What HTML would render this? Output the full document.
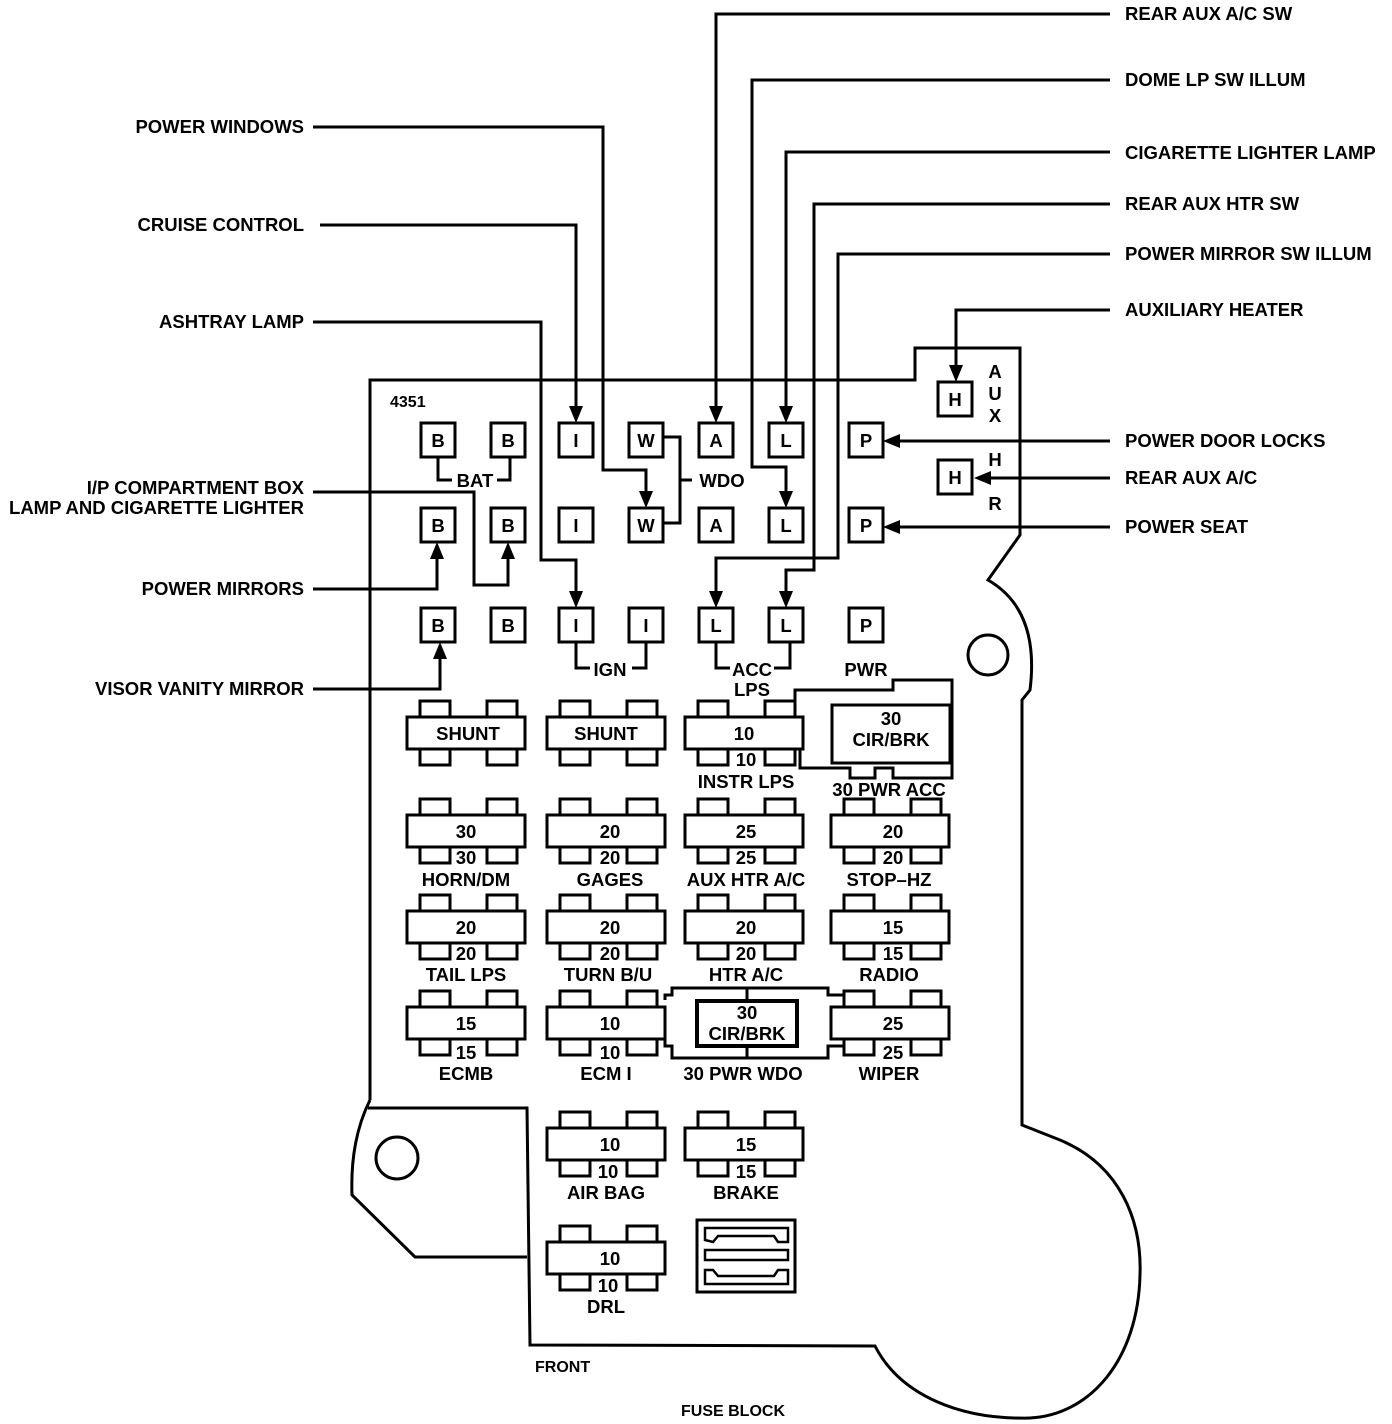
<!DOCTYPE html>
<html><head><meta charset="utf-8"><style>
html,body{margin:0;padding:0;background:#fff}
svg{display:block}
text{font-family:"Liberation Sans",sans-serif;fill:#000;font-weight:bold}
.t{font-size:18.5px}
.s{font-size:16px}
</style></head><body>
<svg width="1392" height="1424" viewBox="0 0 1392 1424" xmlns="http://www.w3.org/2000/svg">
<defs>
<g id="fuse">
 <rect x="13" y="0" width="30" height="16" fill="#fff" stroke="#000" stroke-width="3"/>
 <rect x="80" y="0" width="30" height="16" fill="#fff" stroke="#000" stroke-width="3"/>
 <rect x="13" y="48" width="30" height="16" fill="#fff" stroke="#000" stroke-width="3"/>
 <rect x="80" y="48" width="30" height="16" fill="#fff" stroke="#000" stroke-width="3"/>
 <rect x="0" y="16" width="118" height="32" fill="#fff" stroke="#000" stroke-width="3"/>
</g>
<g id="sq"><rect x="0" y="0" width="34" height="34" fill="#fff" stroke="#000" stroke-width="3"/></g>
</defs>
<g fill="none" stroke="#000" stroke-width="3">
<path d="M370,1100 L370,380 L915,380 L915,348 L1020,348 L1020,535 L988,580 Q1040,610 1030,690 L1022,700 L1022,1125 L1060,1140 C1120,1165 1142,1220 1140,1275 C1138,1360 1090,1415 1030,1418 C960,1420 900,1395 875,1346 L530,1345 L527,1108 L368,1108"/>
<path d="M370,1100 Q350,1140 352,1195 L415,1257 L527,1257"/>
<circle cx="988" cy="655" r="20"/>
<circle cx="397" cy="1158" r="21"/>
<polyline points="1110,14 716,14 716,415"/>
<polyline points="1110,80 752,80 752,467 786,467 786,500"/>
<polyline points="1110,152 786,152 786,415"/>
<polyline points="1110,204 814,204 814,570 786,570 786,600"/>
<polyline points="1110,254 838,254 838,558 716,558 716,600"/>
<polyline points="1110,310 956,310 956,375"/>
<polyline points="1110,441 890,441"/>
<polyline points="1110,478 980,478"/>
<polyline points="1110,527 890,527"/>
<polyline points="313,127 603,127 603,470 646,470 646,500"/>
<polyline points="320,225 576,225 576,415"/>
<polyline points="313,322 541,322 541,560 576,560 576,600"/>
<polyline points="313,492 474,492 474,585 508,585 508,550"/>
<polyline points="313,589 437,589 437,550"/>
<polyline points="313,689 440,689 440,650"/>
<polyline points="438,457 438,480 452,480"/><polyline points="510,457 510,480 497,480"/>
<polyline points="663,437 680,437 680,523 663,523"/><line x1="680" y1="480" x2="692" y2="480"/>
<polyline points="576,642 576,668 590,668"/><polyline points="646,642 646,668 632,668"/>
<polyline points="716,642 716,668 730,668"/><polyline points="790,642 790,668 774,668"/>
<polyline points="800,717 795,717 795,690 893,690 893,680 952,680 952,778 893,778 893,768 875,768 875,778 850,778 850,768 800,768 800,750"/>
<rect x="832" y="705" width="118" height="58"/>
<path d="M665,1000 L665,995 L672,995 L672,988 L828,988 L828,995 L860,995 L860,1000 M665,1040 L665,1046 L672,1046 L672,1058 L828,1058 L828,1046 L860,1046 L860,1040"/>
<rect x="697" y="1001" width="100" height="45" stroke-width="4"/>
<line x1="747" y1="988" x2="747" y2="1001"/><line x1="747" y1="1046" x2="747" y2="1058"/>
<rect x="697" y="1220" width="98" height="72"/>
<path d="M705,1240 L705,1228 L788,1228 L788,1242 L778,1242 L774,1236 L718,1236 L713,1242 Z" stroke-width="2.5"/>
<rect x="705" y="1250" width="83" height="10" stroke-width="2.5"/>
<path d="M705,1270 L705,1284 L788,1284 L788,1270 L778,1270 L774,1276 L718,1276 L713,1270 Z" stroke-width="2.5"/>
</g>
<g fill="#000">
<polygon points="709,406 723,406 716,423"/>
<polygon points="779,406 793,406 786,423"/>
<polygon points="779,491 793,491 786,508"/>
<polygon points="779,591 793,591 786,608"/>
<polygon points="709,591 723,591 716,608"/>
<polygon points="949,365 963,365 956,382"/>
<polygon points="900,434 900,448 883,441"/>
<polygon points="991,471 991,485 974,478"/>
<polygon points="900,520 900,534 883,527"/>
<polygon points="639,491 653,491 646,508"/>
<polygon points="569,406 583,406 576,423"/>
<polygon points="569,591 583,591 576,608"/>
<polygon points="501,559 515,559 508,542"/>
<polygon points="430,559 444,559 437,542"/>
<polygon points="433,659 447,659 440,642"/>
</g>
<g>
<use href="#sq" x="421" y="423"/><use href="#sq" x="491" y="423"/><use href="#sq" x="559" y="423"/><use href="#sq" x="629" y="423"/><use href="#sq" x="699" y="423"/><use href="#sq" x="769" y="423"/><use href="#sq" x="849" y="423"/>
<use href="#sq" x="421" y="508"/><use href="#sq" x="491" y="508"/><use href="#sq" x="559" y="508"/><use href="#sq" x="629" y="508"/><use href="#sq" x="699" y="508"/><use href="#sq" x="769" y="508"/><use href="#sq" x="849" y="508"/>
<use href="#sq" x="421" y="608"/><use href="#sq" x="491" y="608"/><use href="#sq" x="559" y="608"/><use href="#sq" x="629" y="608"/><use href="#sq" x="699" y="608"/><use href="#sq" x="769" y="608"/><use href="#sq" x="849" y="608"/>
<use href="#sq" x="938" y="382"/><use href="#sq" x="938" y="460"/>
</g>
<g class="t" text-anchor="middle">
<text x="438" y="447">B</text><text x="508" y="447">B</text><text x="576" y="447">I</text><text x="646" y="447">W</text><text x="716" y="447">A</text><text x="786" y="447">L</text><text x="866" y="447">P</text>
<text x="438" y="532">B</text><text x="508" y="532">B</text><text x="576" y="532">I</text><text x="646" y="532">W</text><text x="716" y="532">A</text><text x="786" y="532">L</text><text x="866" y="532">P</text>
<text x="438" y="632">B</text><text x="508" y="632">B</text><text x="576" y="632">I</text><text x="646" y="632">I</text><text x="716" y="632">L</text><text x="786" y="632">L</text><text x="866" y="632">P</text>
<text x="955" y="406">H</text><text x="955" y="484">H</text>
<text x="995" y="378">A</text><text x="995" y="400">U</text><text x="995" y="422">X</text>
<text x="995" y="466">H</text><text x="995" y="510">R</text>
<text x="475" y="487">BAT</text><text x="722" y="487">WDO</text><text x="610" y="676">IGN</text><text x="752" y="676">ACC</text><text x="752" y="696">LPS</text><text x="866" y="676">PWR</text>
</g>
<text x="390" y="407" class="s">4351</text>
<g>
<use href="#fuse" x="407" y="701"/><use href="#fuse" x="547" y="701"/><use href="#fuse" x="685" y="701"/>
<use href="#fuse" x="407" y="799"/><use href="#fuse" x="547" y="799"/><use href="#fuse" x="685" y="799"/><use href="#fuse" x="831" y="799"/>
<use href="#fuse" x="407" y="895"/><use href="#fuse" x="547" y="895"/><use href="#fuse" x="685" y="895"/><use href="#fuse" x="831" y="895"/>
<use href="#fuse" x="407" y="991"/><use href="#fuse" x="547" y="991"/><use href="#fuse" x="831" y="991"/>
<use href="#fuse" x="547" y="1112"/><use href="#fuse" x="685" y="1112"/>
<use href="#fuse" x="547" y="1226"/>
</g>
<g class="t" text-anchor="middle">
<text x="468" y="740">SHUNT</text><text x="606" y="740">SHUNT</text><text x="744" y="740">10</text><text x="746" y="766">10</text><text x="746" y="788">INSTR LPS</text>
<text x="891" y="725">30</text><text x="891" y="746">CIR/BRK</text><text x="889" y="796">30 PWR ACC</text>
<text x="466" y="838">30</text><text x="466" y="864">30</text><text x="466" y="886">HORN/DM</text>
<text x="610" y="838">20</text><text x="610" y="864">20</text><text x="610" y="886">GAGES</text>
<text x="746" y="838">25</text><text x="746" y="864">25</text><text x="746" y="886">AUX HTR A/C</text>
<text x="893" y="838">20</text><text x="893" y="864">20</text><text x="889" y="886">STOP–HZ</text>
<text x="466" y="934">20</text><text x="466" y="960">20</text><text x="466" y="981">TAIL LPS</text>
<text x="610" y="934">20</text><text x="610" y="960">20</text><text x="608" y="981">TURN B/U</text>
<text x="746" y="934">20</text><text x="746" y="960">20</text><text x="746" y="981">HTR A/C</text>
<text x="893" y="934">15</text><text x="893" y="960">15</text><text x="889" y="981">RADIO</text>
<text x="466" y="1030">15</text><text x="466" y="1059">15</text><text x="466" y="1080">ECMB</text>
<text x="610" y="1030">10</text><text x="610" y="1059">10</text><text x="606" y="1080">ECM I</text>
<text x="747" y="1019">30</text><text x="747" y="1040">CIR/BRK</text><text x="743" y="1080">30 PWR WDO</text>
<text x="893" y="1030">25</text><text x="893" y="1059">25</text><text x="889" y="1080">WIPER</text>
<text x="610" y="1151">10</text><text x="608" y="1178">10</text><text x="606" y="1199">AIR BAG</text>
<text x="746" y="1151">15</text><text x="746" y="1178">15</text><text x="746" y="1199">BRAKE</text>
<text x="610" y="1265">10</text><text x="608" y="1292">10</text><text x="606" y="1313">DRL</text>
</g>
<g class="t">
<text x="1125" y="20">REAR AUX A/C SW</text>
<text x="1125" y="86">DOME LP SW ILLUM</text>
<text x="1125" y="159">CIGARETTE LIGHTER LAMP</text>
<text x="1125" y="210">REAR AUX HTR SW</text>
<text x="1125" y="260">POWER MIRROR SW ILLUM</text>
<text x="1125" y="316">AUXILIARY HEATER</text>
<text x="1125" y="447">POWER DOOR LOCKS</text>
<text x="1125" y="484">REAR AUX A/C</text>
<text x="1125" y="533">POWER SEAT</text>
</g>
<g class="t" text-anchor="end">
<text x="304" y="133">POWER WINDOWS</text>
<text x="304" y="231">CRUISE CONTROL</text>
<text x="304" y="328">ASHTRAY LAMP</text>
<text x="304" y="494">I/P COMPARTMENT BOX</text>
<text x="304" y="514">LAMP AND CIGARETTE LIGHTER</text>
<text x="304" y="595">POWER MIRRORS</text>
<text x="304" y="695">VISOR VANITY MIRROR</text>
</g>
<text x="535" y="1372" class="s">FRONT</text>
<text x="681" y="1416" class="s">FUSE BLOCK</text>
</svg>
</body></html>
